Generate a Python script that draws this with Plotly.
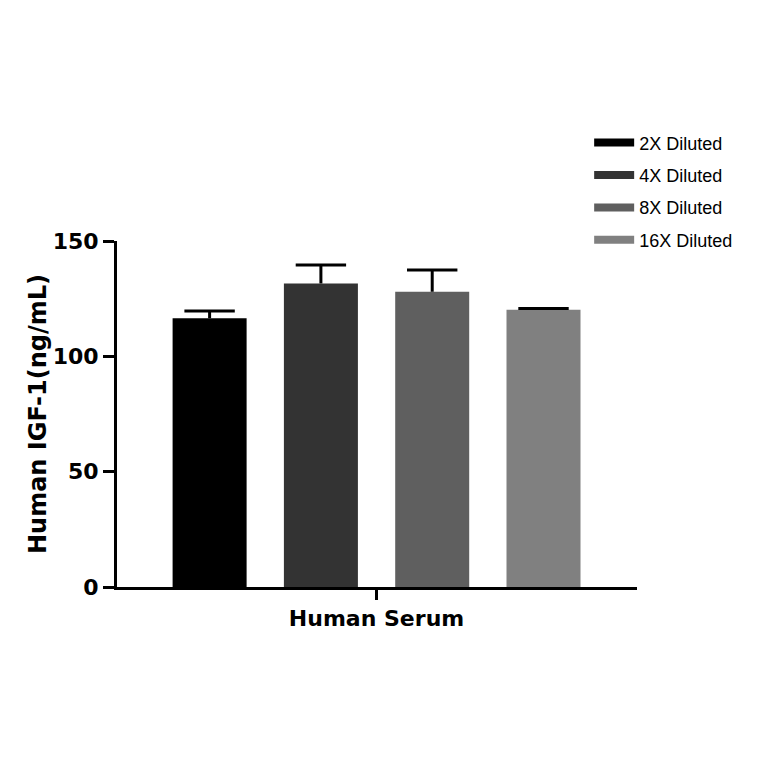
import plotly.graph_objects as go

# values
sample = "Human Serum"
dilutions = ["2X Diluted", "4X Diluted", "8X Diluted", "16X Diluted"]
means = [116.5, 131.6, 128.0, 120.2]
errors = [3.1, 8.0, 9.4, 0.5]
colors = ["#000000", "#333333", "#5f5f5f", "#808080"]

y_ticks = [0, 50, 100, 150]

# bar slots along a numeric x axis, the group label sits in the middle
slots = list(range(len(dilutions)))
centre = (slots[0] + slots[-1]) / 2
tops = [m + e for m, e in zip(means, errors)]

fig = go.Figure()

for i, name, m, c in zip(slots, dilutions, means, colors):
    fig.add_trace(go.Bar(
        x=[i], y=[m], name=name, width=0.665,
        marker=dict(color=c, line=dict(width=0)),
        legendgroup=name, showlegend=False,
    ))

# error bars: only the upper half, stem + cap
fig.add_trace(go.Scatter(
    x=slots, y=tops, mode="markers",
    marker=dict(symbol="line-ew", size=36, color="black",
                line=dict(color="black", width=3)),
    error_y=dict(type="data", symmetric=False, array=[0] * len(errors),
                 arrayminus=errors, color="black", thickness=3, width=0),
    showlegend=False, hoverinfo="skip",
))

# legend keys as thick lines -> wide blocks like the original
for name, c in zip(dilutions, colors):
    fig.add_trace(go.Scatter(
        x=[None], y=[None], mode="lines", name=name, legendgroup=name,
        line=dict(color=c, width=8),
    ))

fig.update_layout(
    width=764, height=764,
    margin=dict(l=109, r=135, t=233, b=185),
    paper_bgcolor="white", plot_bgcolor="white",
    font=dict(family="Liberation Sans, Arial, sans-serif", color="black"),
    legend=dict(x=0.908, y=1.337, xanchor="left", yanchor="top",
                font=dict(size=18), itemwidth=40, tracegroupgap=6,
                bgcolor="rgba(0,0,0,0)"),
)

fig.update_xaxes(
    range=[-0.832, 3.84],
    tickvals=[centre], ticktext=[sample],
    showline=True, linecolor="black", linewidth=3,
    ticks="outside", ticklen=10, tickwidth=3, tickcolor="black",
    tickfont=dict(family="DejaVu Sans", size=22, weight="bold"),
    showgrid=False, zeroline=False,
)
fig.update_yaxes(
    range=[0, 150], tickvals=y_ticks,
    showline=True, linecolor="black", linewidth=3,
    ticks="outside", ticklen=11, tickwidth=3, tickcolor="black",
    tickfont=dict(family="DejaVu Sans", size=22, weight="bold"),
    title=dict(text="Human IGF-1(ng/mL)", standoff=0,
               font=dict(family="DejaVu Sans", size=24, weight="bold")),
    showgrid=False, zeroline=False,
)

fig.write_html("out.html")
